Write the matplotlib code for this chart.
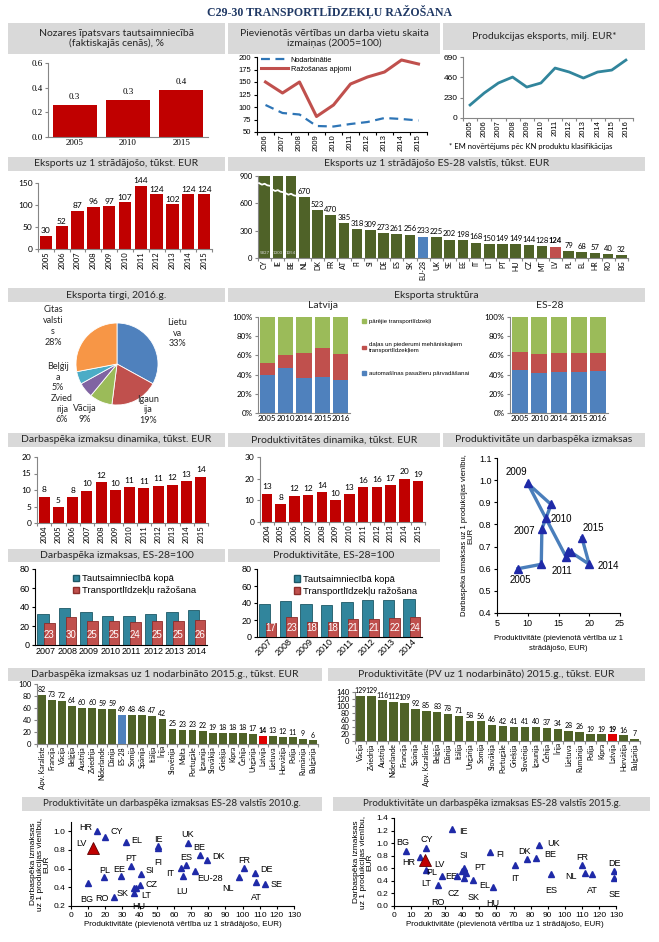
"""
plot.py - C29-30 transport manufacturing dashboard, rebuilt with matplotlib.
Every panel is placed by hand in pixel coordinates of a 659x942 page.
"""

import matplotlib

matplotlib.use("Agg")
import matplotlib.pyplot as plt
import numpy as np
from matplotlib.patches import Patch, Rectangle

W, H = 659, 942
plt.rcParams["font.family"] = ["Lato", "DejaVu Sans"]

ARIAL = ["Liberation Sans", "DejaVu Sans"]
SERIF = ["Liberation Serif", "DejaVu Serif"]
BAND = "#d9d9d9"
AXIS = "#868686"
DARK_RED = "#c00000"
OLIVE = "#4f6228"
XL_BLUE = "#4f81bd"
XL_RED = "#c0504d"
XL_GREEN = "#9bbb59"
TEAL = "#31859c"
TRI_BLUE = "#1f2aa8"

# ---- data ------------------------------------------------------------
share_years = ["2005", "2010", "2015"]
share_vals = [0.26, 0.30, 0.38]
share_labels = ["0.3", "0.3", "0.4"]

index_years = ["2006", "2007", "2008", "2009", "2010", "2011", "2012", "2013", "2014", "2015"]
index_jobs = [104, 88, 85, 62, 61, 66, 70, 78, 76, 73]
index_output = [150, 128, 150, 81, 104, 146, 160, 170, 194, 186]

export_years = ["2005", "2006", "2007", "2008", "2009", "2010", "2011", "2012", "2013", "2014", "2015", "2016"]
export_vals = [147, 283, 396, 463, 350, 396, 565, 520, 452, 520, 542, 655]

epw_years = ["2005", "2006", "2007", "2008", "2009", "2010", "2011", "2012", "2013", "2014", "2015"]
epw_vals = [30, 52, 87, 96, 97, 107, 144, 124, 102, 124, 124]

eu_codes = ["CY", "IE", "BE", "NL", "DK", "FR", "AT", "FI", "SI", "DE", "ES", "SK", "EU-28", "UK",
            "SE", "EE", "IT", "LT", "PT", "HU", "CZ", "MT", "LV", "PL", "EL", "HR", "RO", "BG"]
eu_epw = [5827, 1300, 1054, 670, 523, 470, 385, 318, 309, 273, 261, 256, 233, 225,
          202, 198, 168, 150, 149, 149, 144, 128, 124, 79, 68, 57, 40, 32]
break_levels = [810, 740, 700]

market_names = ["Lietuva", "Igaunija", "Vācija", "Zviedrija", "Beļģija", "Citas valstis"]
market_shares = [33, 19, 9, 6, 5, 28]
market_labels = ["Lietu\nva\n33%", "Igaun\nija\n19%", "Vācija\n9%", "Zvied\nrija\n6%",
                 "Beļģij\na\n5%", "Citas\nvalsti\ns\n28%"]

struct_years = ["2005", "2010", "2014", "2015", "2016"]
lv_cars = [40, 47, 36, 38, 34]
lv_parts = [12, 13, 27, 30, 27]
lv_other = [48, 40, 37, 32, 39]
es_cars = [45, 42, 43, 43, 44]
es_parts = [19, 19, 20, 19, 19]
es_other = [36, 39, 37, 38, 37]
struct_names = ["pārējie transportlīdzekļi",
                "daļas un piederumi mehāniskajiem\ntransportlīdzekļiem",
                "automašīnas pasažieru pārvadāšanai"]

dyn_years = ["2004", "2005", "2006", "2007", "2008", "2009", "2010", "2011", "2012", "2013", "2014", "2015"]
labour_vals = [8.0, 4.9, 7.8, 9.8, 12.3, 9.9, 10.8, 10.6, 11.3, 11.6, 12.7, 14.0]
labour_labels = ["8", "5", "8", "10", "12", "10", "11", "11", "11", "12", "13", "14"]
prod_vals = [13.1, 8.2, 12.2, 12.3, 13.7, 10.0, 12.9, 16.2, 16.3, 17.1, 20.0, 18.8]
prod_labels = ["13", "8", "12", "12", "14", "10", "13", "16", "16", "17", "20", "19"]

ulc_years = ["2005", "2006", "2007", "2008", "2009", "2010", "2011", "2012", "2013", "2014", "2015"]
ulc_prod = [8.4, 12.2, 12.3, 13.8, 10.0, 12.9, 16.2, 16.5, 17.0, 20.0, 18.8]
ulc_cost = [0.60, 0.62, 0.78, 0.89, 0.985, 0.83, 0.655, 0.68, 0.675, 0.62, 0.74]
ulc_shown = ["2005", "2007", "2009", "2010", "2011", "2014", "2015"]

rel_years = ["2007", "2008", "2009", "2010", "2011", "2012", "2013", "2014"]
rel_lc_total = [33, 39, 35, 31, 31, 33, 35, 37]
rel_lc_transport = [23, 30, 25, 25, 24, 25, 25, 26]
rel_pr_total = [39, 42, 39, 38, 41, 43, 43, 45]
rel_pr_transport = [17, 23, 18, 18, 21, 21, 22, 24]
rel_names = ["Tautsaimniecībā kopā", "Transportlīdzekļu ražošana"]

lc_countries = ["Apv. Karaliste", "Francija", "Vācija", "Beļģija", "Austrija", "Zviedrija",
                "Nīderlande", "Dānija", "ES-28", "Somija", "Spānija", "Itālija", "Īrija",
                "Slovēnija", "Malta", "Portugāle", "Igaunija", "Slovākija", "Grieķija", "Kipra",
                "Čehija", "Ungārija", "Latvija", "Lietuva", "Horvātija", "Polija", "Rumānija",
                "Bulgārija"]
lc_country_vals = [82, 73, 72, 64, 60, 60, 59, 59, 49, 48, 48, 47, 42, 25, 23, 23, 22, 19, 18,
                   18, 18, 17, 14, 13, 12, 11, 9, 6]

pv_countries = ["Vācija", "Zviedrija", "Austrija", "Nīderlande", "Francija", "Spānija",
                "Apv. Karaliste", "Beļģija", "Dānija", "Itālija", "Ungārija", "Somija",
                "Slovākija", "Portugāle", "Grieķija", "Slovēnija", "Igaunija", "Čehija", "Īrija",
                "Lietuva", "Rumānija", "Polija", "Kipra", "Latvija", "Horvātija", "Bulgārija"]
pv_country_vals = [129, 129, 116, 112, 109, 92, 85, 83, 78, 71, 58, 56, 46, 42, 41, 41, 40, 37,
                   34, 28, 26, 19, 19, 19, 16, 7]

sc10_codes = ["HR", "CY", "EL", "LV", "IE", "FI", "UK", "BE", "DK", "ES", "IT", "LU", "EU-28",
              "PT", "SI", "EE", "PL", "BG", "RO", "SK", "CZ", "LT", "HU", "FR", "DE", "NL", "AT", "SE"]
sc10_prod = [15, 20, 32, 13, 51, 51, 68, 75, 79, 67, 64, 65, 72, 35, 41, 29, 19, 10, 25, 37,
             40, 38, 37, 101, 107, 98, 108, 113]
sc10_cost = [1.00, 0.94, 0.89, 0.82, 0.84, 0.82, 0.88, 0.75, 0.69, 0.64, 0.61, 0.52, 0.58,
             0.63, 0.54, 0.52, 0.51, 0.45, 0.30, 0.39, 0.42, 0.39, 0.34, 0.61, 0.55, 0.51, 0.46, 0.44]

sc15_codes = ["IE", "BG", "CY", "HR", "LV", "LT", "PL", "RO", "SI", "EE", "CZ", "SK", "EL", "PT",
              "HU", "FI", "IT", "DK", "BE", "UK", "ES", "FR", "NL", "AT", "DE", "SE"]
sc15_prod = [34, 7, 19, 15, 18, 19, 28, 26, 41, 40, 37, 41, 46, 42, 58, 56, 71, 78, 83, 85,
             92, 110, 112, 116, 129, 129]
sc15_cost = [1.23, 0.88, 0.92, 0.78, 0.73, 0.58, 0.47, 0.34, 0.61, 0.55, 0.48, 0.44, 0.41, 0.53,
             0.30, 0.86, 0.66, 0.75, 0.77, 0.97, 0.51, 0.66, 0.52, 0.51, 0.55, 0.45]

# label placement for the two country scatters (offset in points, alignment)
sc10_offsets = {"HR": (-3, 3, "right"), "CY": (4, 4, "left"), "EL": (4, 1, "left"),
                "LV": (-5, 3, "right"), "IE": (0, 5, "center"), "FI": (0, -10, "center"),
                "UK": (0, 6, "center"), "BE": (0, 5, "center"), "DK": (4, 3, "left"),
                "ES": (0, 5, "center"), "IT": (-5, -4, "right"), "LU": (0, -11, "center"),
                "EU-28": (2, -6, "left"), "PT": (0, 5, "center"), "SI": (3, 3, "left"),
                "EE": (-1, 5, "center"), "PL": (1, 5, "center"), "BG": (-1, -12, "center"),
                "RO": (-4, -1, "right"), "SK": (-4, -4, "right"), "CZ": (4, 1, "left"),
                "LT": (4, -5, "left"), "HU": (3, -10, "center"), "FR": (0, 5, "center"),
                "DE": (4, 3, "left"), "NL": (-4, -8, "right"), "AT": (0, -11, "center"),
                "SE": (4, -1, "left")}
sc15_offsets = {"IE": (5, -2, "left"), "BG": (-2, 6, "center"), "CY": (0, 6, "center"),
                "HR": (-3, -4, "right"), "LV": (7, -3, "left"), "LT": (0, -10, "center"),
                "PL": (-3, 3, "right"), "RO": (0, -13, "center"), "SI": (0, 9, "center"),
                "EE": (-4, -4, "right"), "CZ": (-3, -13, "center"), "SK": (7, -14, "center"),
                "EL": (5, -4, "left"), "PT": (6, 4, "left"), "HU": (0, -12, "center"),
                "FI": (5, -2, "left"), "IT": (0, -10, "center"), "DK": (-2, 5, "center"),
                "BE": (6, 2, "left"), "UK": (6, 1, "left"), "ES": (0, -12, "center"),
                "FR": (0, 5, "center"), "NL": (-6, -2, "right"), "AT": (0, -12, "center"),
                "DE": (0, 6, "center"), "SE": (0, -12, "center")}


# ---- helpers ---------------------------------------------------------
def _axes(fig, x0, y0, x1, y1):
    """Axes from a pixel box (top-left origin)."""
    return fig.add_axes([x0 / W, 1 - y1 / H, (x1 - x0) / W, (y1 - y0) / H])


def _header(fig, x0, y0, x1, y1, text, size=7.5):
    fig.add_artist(Rectangle((x0 / W, 1 - y1 / H), (x1 - x0) / W, (y1 - y0) / H,
                             transform=fig.transFigure, color=BAND, zorder=0, lw=0))
    fig.text((x0 + x1) / 2 / W, 1 - (y0 + y1) / 2 / H, text, ha="center", va="center",
             fontsize=size, color="#262626", linespacing=1.15)


def _ftext(fig, x, y, text, **kw):
    fig.text(x / W, 1 - y / H, text, **kw)


def _style(ax, size=6, family=None, color=AXIS):
    ax.set_facecolor("none")
    ax.spines[["top", "right"]].set_visible(False)
    ax.spines[["left", "bottom"]].set_color(color)
    ax.spines[["left", "bottom"]].set_linewidth(0.8)
    kw = dict(colors=color, labelcolor="black", labelsize=size, length=2.5, width=0.8, pad=1.5)
    if family:
        kw["labelfontfamily"] = family
    ax.tick_params(which="both", **kw)


def _categories(ax, labels, rotation=90, size=5.5, family=None, boundary_ticks=True):
    n = len(labels)
    ax.set_xlim(-0.5, n - 0.5)
    ax.set_xticks(range(n))
    ax.set_xticklabels(labels, rotation=rotation, fontsize=size,
                       ha="right" if rotation == 45 else "center",
                       rotation_mode="anchor" if rotation == 45 else "default")
    if family:
        for t in ax.get_xticklabels():
            t.set_family(family)
    ax.tick_params(axis="x", which="major", length=0)
    if boundary_ticks:
        ax.set_xticks(np.arange(n + 1) - 0.5, minor=True)
        ax.tick_params(axis="x", which="minor", length=2.5)


def _value_bars(ax, labels, vals, texts, color, ymax, step, gap, size=6, width=0.78):
    x = np.arange(len(vals))
    ax.bar(x, vals, width=width, color=color, zorder=2)
    for i, (v, t) in enumerate(zip(vals, texts)):
        ax.text(i, v + gap, t, ha="center", va="bottom", fontsize=size)
    ax.set_ylim(0, ymax)
    ax.set_yticks(np.arange(0, ymax + 1, step))
    _style(ax, size=size)
    _categories(ax, labels, size=size - 0.5)


def _country_scatter(ax, codes, xs, ys, offsets, ymin, ymax, ystep):
    for c, x, y in zip(codes, xs, ys):
        if c == "LV":
            ax.plot(x, y, "^", ms=9, color=DARK_RED, mec="#5a0000", mew=0.6, zorder=4)
        else:
            ax.plot(x, y, "^", ms=5, color=TRI_BLUE, zorder=3)
        dx, dy, ha = offsets[c]
        ax.annotate(c, (x, y), xytext=(dx, dy), textcoords="offset points", ha=ha,
                    va="center", fontsize=6.5, family=ARIAL)
    ax.set_xlim(0, 130)
    ax.set_xticks(range(0, 131, 10))
    ax.set_ylim(ymin, ymax)
    ax.set_yticks(np.arange(ymin, ymax + 1e-9, ystep))
    ax.yaxis.set_major_formatter(matplotlib.ticker.FormatStrFormatter("%.1f"))
    _style(ax, size=6, family=ARIAL, color="black")
    ax.set_xlabel("Produktivitāte (pievienotā vērtība uz 1 strādājošo, EUR)",
                  fontsize=5.8, family=ARIAL, labelpad=2)
    ax.set_ylabel("Darbaspēka izmaksas\nuz 1 produkcijas vienību,\nEUR",
                  fontsize=6, family=ARIAL, labelpad=2, linespacing=1.0)


def build():
    fig = plt.figure(figsize=(W / 100, H / 100), dpi=100)

    fig.text(0.5, 1 - 12 / H, "C29-30 TRANSPORTLĪDZEKĻU RAŽOŠANA", ha="center", va="center",
             fontsize=8.6, fontweight="bold", color="#1f3864", family=SERIF)

    # ---- row 1 -------------------------------------------------------
    _header(fig, 8, 23, 225, 54, "Nozares īpatsvars tautsaimniecībā\n(faktiskajās cenās), %")
    _header(fig, 228, 23, 440, 54, "Pievienotās vērtības un darba vietu skaita\nizmaiņas (2005=100)")
    _header(fig, 443, 23, 645, 50, "Produkcijas eksports, milj. EUR*")

    ax = _axes(fig, 48, 63, 208, 137)
    ax.bar(range(3), share_vals, width=0.82, color=DARK_RED, zorder=2)
    for i, (v, t) in enumerate(zip(share_vals, share_labels)):
        ax.text(i, v + 0.035, t, ha="center", va="bottom", fontsize=6.5, family=SERIF)
    ax.set_ylim(0, 0.6)
    ax.set_yticks([0, 0.2, 0.4, 0.6])
    ax.yaxis.set_major_formatter(matplotlib.ticker.FormatStrFormatter("%.1f"))
    _style(ax, size=6.5, family=SERIF)
    _categories(ax, share_years, rotation=0, size=6.5, family=SERIF, boundary_ticks=False)

    ax = _axes(fig, 257, 57, 427, 132)
    x = np.arange(len(index_years))
    ax.plot(x, index_jobs, color="#2e75b6", lw=1.6, ls=(0, (4, 2.5)), label="Nodarbinātie")
    ax.plot(x, index_output, color=XL_RED, lw=2.2, label="Ražošanas apjomi")
    ax.set_ylim(50, 200)
    ax.set_yticks(range(50, 201, 25))
    _style(ax, size=5.5, family=ARIAL, color="black")
    _categories(ax, index_years, size=5.5, family=ARIAL)
    ax.legend(loc="upper left", bbox_to_anchor=(0.0, 1.06), frameon=False, prop={"family": ARIAL, "size": 5.3},
              handlelength=3.6, labelspacing=0.25, handletextpad=0.4, borderaxespad=0.2)

    ax = _axes(fig, 463, 57, 633, 118)
    ax.plot(np.arange(len(export_vals)), export_vals, color=TEAL, lw=2)
    ax.set_ylim(0, 690)
    ax.set_yticks([0, 230, 460, 690])
    _style(ax, size=6, family=ARIAL, color=AXIS)
    _categories(ax, export_years, size=5.5, family=ARIAL)
    _ftext(fig, 449, 146, "* EM novērtējums pēc KN produktu klasifikācijas", fontsize=5.5,
           ha="left", va="center")

    # ---- row 2 -------------------------------------------------------
    _header(fig, 8, 157, 225, 171, "Eksports uz 1 strādājošo, tūkst. EUR")
    _header(fig, 228, 157, 645, 171, "Eksports uz 1 strādājošo ES-28 valstīs, tūkst. EUR")

    ax = _axes(fig, 38, 183, 212, 249)
    _value_bars(ax, epw_years, epw_vals, [str(v) for v in epw_vals], DARK_RED, 150, 50, 3, size=6)

    ax = _axes(fig, 258, 176, 628, 258)
    colors = [XL_BLUE if c == "EU-28" else XL_RED if c == "LV" else OLIVE for c in eu_codes]
    shown = [min(v, 900) for v in eu_epw]
    ax.bar(range(len(shown)), shown, width=0.8, color=colors, zorder=2)
    for i, v in enumerate(eu_epw):
        if v > 900:
            ax.text(i, 55, str(v), ha="center", va="center", fontsize=3.2, color="#d8d8d8")
            lvl = break_levels[i]
            ax.plot([i - 0.42, i - 0.2, i, i + 0.2, i + 0.42], [lvl + 12, lvl - 5, lvl + 5, lvl - 12, lvl - 18],
                    color="white", lw=1.3, zorder=3)
        else:
            ax.text(i, v + 25, str(v), ha="center", va="bottom", fontsize=5.5,
                    fontweight="bold" if eu_codes[i] == "LV" else "normal")
    ax.set_ylim(0, 900)
    ax.set_yticks([0, 300, 600, 900])
    _style(ax, size=5.5)
    _categories(ax, eu_codes, size=5)

    # ---- row 3 -------------------------------------------------------
    _header(fig, 8, 288, 225, 302, "Eksporta tirgi, 2016.g.")
    _header(fig, 228, 288, 645, 302, "Eksporta struktūra")

    ax = _axes(fig, 76, 323, 158, 405)
    ax.pie(market_shares, colors=[XL_BLUE, XL_RED, XL_GREEN, "#8064a2", "#4bacc6", "#f79646"],
           startangle=90, counterclock=False, wedgeprops=dict(edgecolor="white", linewidth=0.6))
    ax.set_xlim(-1, 1)
    ax.set_ylim(-1, 1)
    ax.set_aspect("equal")
    label_pos = [(177, 333), (148, 410), (85, 414), (62, 409), (58, 377), (53, 326)]
    for (px, py), t in zip(label_pos, market_labels):
        _ftext(fig, px, py, t, ha="center", va="center", fontsize=6.5, linespacing=1.25,
               color="#262626")

    for (x0, x1), title, tx, parts in [
        ((258, 350), "Latvija", 323, (lv_cars, lv_parts, lv_other)),
        ((510, 608), "ES-28", 550, (es_cars, es_parts, es_other)),
    ]:
        ax = _axes(fig, x0, 317, x1, 413)
        xs = np.arange(len(struct_years))
        bottom = np.zeros(len(xs))
        for vals, col in zip(parts, [XL_BLUE, XL_RED, XL_GREEN]):
            ax.bar(xs, vals, bottom=bottom, width=0.82, color=col, zorder=2)
            bottom += np.array(vals)
        ax.set_ylim(0, 100)
        ax.set_yticks(range(0, 101, 20))
        ax.set_yticklabels([f"{v}%" for v in range(0, 101, 20)])
        _style(ax, size=5.8)
        _categories(ax, struct_years, rotation=0, size=5.8, boundary_ticks=False)
        _ftext(fig, tx, 306, title, ha="center", va="center", fontsize=7.5, color="#262626")

    leg_ax = _axes(fig, 360, 317, 470, 400)
    leg_ax.axis("off")
    leg_ax.legend([Patch(color=XL_GREEN), Patch(color=XL_RED), Patch(color=XL_BLUE)], struct_names,
                  loc="upper left", frameon=False, prop={"family": ARIAL, "size": 4.3},
                  handlelength=0.6, handleheight=0.6, labelspacing=3.0, handletextpad=0.5,
                  borderaxespad=0.0, borderpad=0.4)

    # ---- row 4 -------------------------------------------------------
    _header(fig, 8, 433, 225, 447, "Darbaspēka izmaksu dinamika, tūkst. EUR")
    _header(fig, 228, 433, 440, 447, "Produktivitātes dinamika, tūkst. EUR")
    _header(fig, 443, 433, 645, 447, "Produktivitāte un darbaspēka izmaksas")

    ax = _axes(fig, 37, 457, 208, 523)
    _value_bars(ax, dyn_years, labour_vals, labour_labels, DARK_RED, 20, 5, 1.0, size=6)
    ax = _axes(fig, 260, 457, 425, 522)
    _value_bars(ax, dyn_years, prod_vals, prod_labels, DARK_RED, 30, 10, 1.5, size=6)

    ax = _axes(fig, 497, 458, 620, 613)
    ax.plot(ulc_prod, ulc_cost, color="#4a7ebb", lw=2.4, solid_joinstyle="round", zorder=2)
    ax.plot(ulc_prod, ulc_cost, "^", ms=5.5, color=TRI_BLUE, zorder=3)
    label_xy = {"2005": (8.8, 0.548), "2007": (9.4, 0.77), "2009": (8.2, 1.036), "2010": (15.5, 0.823),
                "2011": (15.5, 0.59), "2014": (23.1, 0.613), "2015": (20.7, 0.785)}
    for yr in ulc_shown:
        lx, ly = label_xy[yr]
        ax.text(lx, ly, yr, ha="center", va="center", fontsize=7, family=ARIAL)
    ax.set_xlim(5, 25)
    ax.set_xticks(range(5, 26, 5))
    ax.set_ylim(0.4, 1.1)
    ax.set_yticks(np.arange(0.4, 1.11, 0.1))
    ax.yaxis.set_major_formatter(matplotlib.ticker.FormatStrFormatter("%.1f"))
    _style(ax, size=6.5, family=ARIAL, color="black")
    ax.set_ylabel("Darbaspēka izmaksas uz 1 produkcijas vienību,\nEUR", fontsize=5.5,
                  family=ARIAL, labelpad=3, linespacing=1.0)
    ax.set_xlabel("Produktivitāte (pievienotā vērtība uz 1\nstrādājošo, EUR)", fontsize=5.5,
                  family=ARIAL, labelpad=5, linespacing=1.6)

    # ---- row 5 -------------------------------------------------------
    _header(fig, 8, 549, 225, 562, "Darbaspēka izmaksas, ES-28=100")
    _header(fig, 228, 549, 440, 562, "Produktivitāte, ES-28=100")

    for (x0, x1, y1), total, transport, rot in [
        ((35, 207, 645), rel_lc_total, rel_lc_transport, 0),
        ((257, 422, 637), rel_pr_total, rel_pr_transport, 45),
    ]:
        ax = _axes(fig, x0, 569, x1, y1)
        xs = np.arange(len(rel_years))
        ax.bar(xs - 0.13, total, width=0.55, color=TEAL, edgecolor="#1d5866", lw=0.6, zorder=2)
        ax.bar(xs + 0.17, transport, width=0.5, color=XL_RED, edgecolor="#8c2d2a", lw=0.6, zorder=3)
        for i, v in enumerate(transport):
            ax.text(i + 0.17, 11, str(v), ha="center", va="center", fontsize=7, color="white",
                    family=ARIAL, zorder=4)
        ax.set_ylim(0, 80)
        ax.set_yticks(range(0, 81, 20))
        _style(ax, size=6.5, family=ARIAL, color="black")
        _categories(ax, rel_years, rotation=rot, size=6.5, family=ARIAL, boundary_ticks=False)
        if rot:
            ax.tick_params(axis="x", pad=0)
        ax.legend([Patch(facecolor=TEAL, edgecolor="#1d5866"), Patch(facecolor=XL_RED, edgecolor="#8c2d2a")],
                  rel_names, loc="upper left", bbox_to_anchor=(0.17, 1.04), frameon=False,
                  prop={"family": ARIAL, "size": 6.8}, handlelength=0.7, handleheight=0.7,
                  handletextpad=0.3, labelspacing=0.3)

    # ---- row 6 -------------------------------------------------------
    _header(fig, 8, 668, 322, 681, "Darbaspēka izmaksas uz 1 nodarbināto 2015.g., tūkst. EUR")
    _header(fig, 328, 668, 645, 681, "Produktivitāte (PV uz 1 nodarbināto) 2015.g., tūkst. EUR")

    ax = _axes(fig, 37, 684, 318, 744)
    colors = ["#4f81bd" if c == "ES-28" else "#e00000" if c == "Latvija" else OLIVE for c in lc_countries]
    ax.bar(range(len(lc_country_vals)), lc_country_vals, width=0.78, color=colors, zorder=2)
    for i, v in enumerate(lc_country_vals):
        ax.text(i, v + 3, str(v), ha="center", va="bottom", fontsize=5,
                fontweight="bold" if lc_countries[i] == "Latvija" else "normal")
    ax.set_ylim(0, 100)
    ax.set_yticks(range(0, 101, 20))
    _style(ax, size=5.5)
    _categories(ax, lc_countries, size=5)

    ax = _axes(fig, 355, 692, 640, 741)
    colors = ["#e00000" if c == "Latvija" else OLIVE for c in pv_countries]
    ax.bar(range(len(pv_country_vals)), pv_country_vals, width=0.78, color=colors, zorder=2)
    for i, v in enumerate(pv_country_vals):
        ax.text(i, v + 5, str(v), ha="center", va="bottom", fontsize=5,
                fontweight="bold" if pv_countries[i] == "Latvija" else "normal")
    ax.set_ylim(0, 140)
    ax.set_yticks(range(0, 141, 20))
    _style(ax, size=5.5)
    _categories(ax, pv_countries, size=5)

    # ---- row 7 -------------------------------------------------------
    _header(fig, 22, 797, 322, 811, "Produktivitāte un darbaspēka izmaksas ES-28 valstīs 2010.g.", size=7)
    _header(fig, 333, 797, 650, 811, "Produktivitāte un darbaspēka izmaksas ES-28 valstīs 2015.g.", size=7)

    ax = _axes(fig, 71, 822, 294, 906)
    _country_scatter(ax, sc10_codes, sc10_prod, sc10_cost, sc10_offsets, 0.2, 1.0, 0.2)
    ax.set_ylim(0.2, 1.1)
    ax = _axes(fig, 394, 818, 616, 906)
    _country_scatter(ax, sc15_codes, sc15_prod, sc15_cost, sc15_offsets, 0.0, 1.4, 0.2)

    fig.savefig("out.png", dpi=100)
    plt.close(fig)


if __name__ == "__main__":
    build()
